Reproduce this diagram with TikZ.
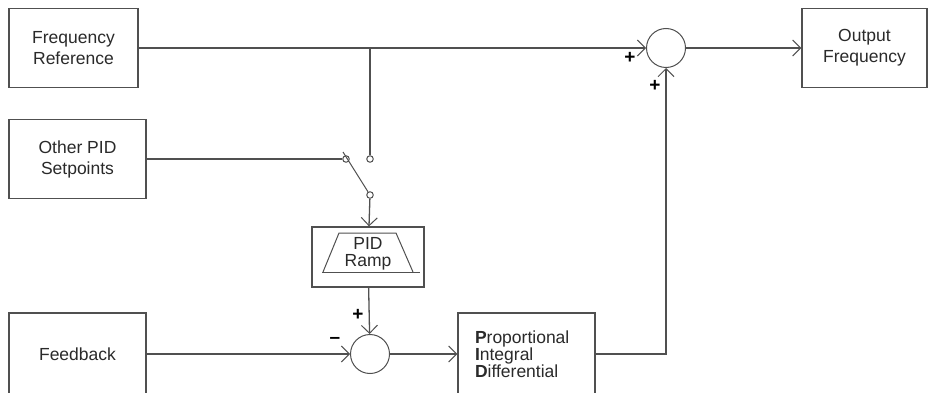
\documentclass[tikz,border=0pt]{standalone}
\usepackage{fontspec}
\setmainfont{Liberation Sans}
\usetikzlibrary{positioning,arrows.meta,calc}
\definecolor{PIDline}{HTML}{505050}
\definecolor{PIDtext}{HTML}{2A2A2A}
\tikzset{
  blockbox/.style={draw=PIDline, line width=1.3pt, fill=white, align=center, font=\fontsize{17.5}{21}\selectfont, text=PIDtext, inner sep=0pt},
  sumnode/.style={circle, draw=PIDline, line width=1pt, minimum size=39pt, inner sep=0pt},
  contact/.style={circle, draw=PIDline, line width=1pt, minimum size=6.5pt, inner sep=0pt},
  sigline/.style={draw=PIDline, line width=1.3pt},
  sigarr/.style={sigline, -{Straight Barb[length=8pt, width=16pt, line width=1pt]}},
  signlabel/.style={font=\bfseries\fontsize{19}{19}\selectfont, text=black, inner sep=0pt}
}
\begin{document}
\begin{tikzpicture}[x=1pt, y=-1pt]
  \useasboundingbox (0,0) rectangle (928,393);
  \clip (0,0) rectangle (928,393);
  % blocks
  \node[blockbox, minimum width=129pt, minimum height=79pt] (freq) at (73.5,48) {Frequency\\Reference};
  \node[blockbox, minimum width=137pt, minimum height=79pt] (other) at (77.5,159) {Other PID\\Setpoints};
  \node[blockbox, minimum width=137pt, minimum height=82pt] (feed) at (77.5,354) {Feedback};
  \node[blockbox, minimum width=125pt, minimum height=79pt] (out) at (864.5,48) {Output\\Frequency};
  \node[blockbox, minimum width=112pt, minimum height=60pt] (ramp) at (368,257) {};
  \node[blockbox, minimum width=137pt, minimum height=82pt, text width=103pt, inner xsep=17pt, align=left, font=\fontsize{17.5}{17}\selectfont] (pid) at (526.5,354) {\textbf{P}roportional\\\textbf{I}ntegral\\\textbf{D}ifferential};
  % ramp symbol
  \draw[PIDline, line width=1pt] ($(ramp.center)+(-45,15)$) -- ($(ramp.center)+(-29,-24)$) -- ($(ramp.center)+(28,-24)$) -- ($(ramp.center)+(45,15)$);
  \draw[PIDline, line width=1pt] ($(ramp.center)+(-46,15)$) -- ($(ramp.center)+(52,15)$);
  \node[font=\fontsize{17.5}{17}\selectfont, text=PIDtext, align=center, inner sep=0pt] (rampText) at ($(ramp.center)+(0,-3)$) {PID\\Ramp};
  % summing points
  \node[sumnode] (sumTop) at (666,48) {};
  \node[sumnode] (sumBot) at (370,354) {};
  % switch
  \coordinate (tap) at (370,48);
  \node[contact] (swA) at (370,159) {};
  \node[contact] (swB) at (346,159) {};
  \node[contact] (swC) at (370,195) {};
  \coordinate (bladeEnd) at (343,152);
  % connectors
  \draw[sigarr] (freq) -- (sumTop);
  \draw[sigarr] (sumTop) -- (out);
  \draw[sigline] (tap) -- (swA);
  \draw[sigline] (other) -- (swB);
  \draw[PIDline, line width=1pt] (swC) -- (bladeEnd);
  \draw[sigarr] (swC) -- (ramp);
  \draw[sigarr] (ramp) -- (sumBot);
  \draw[sigarr] (feed) -- (sumBot);
  \draw[sigarr] (sumBot) -- (pid.west |- sumBot);
  \draw[sigarr] (pid.east |- sumBot) -| (sumTop.south);
  % signs
  \node[signlabel] (plusTop) at (630,58) {+};
  \node[signlabel] (plusUp) at (655,86) {+};
  \node[signlabel] (plusBot) at (358,315) {+};
  \node[signlabel] (minusBot) at (335,340) {--};
\end{tikzpicture}
\end{document}
